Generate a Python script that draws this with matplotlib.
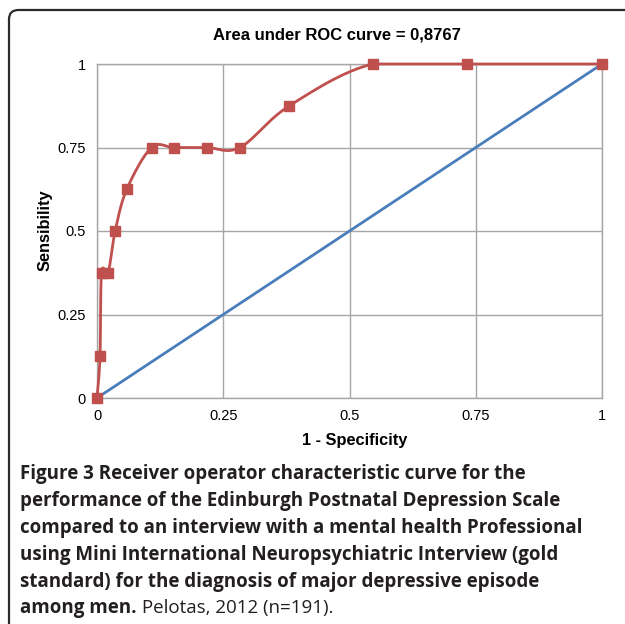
import numpy as np
import matplotlib
matplotlib.use("Agg")
import matplotlib.pyplot as plt
from matplotlib.patches import FancyBboxPatch

# ---- data ----
fpr = [0.0, 0.006, 0.009, 0.022, 0.036, 0.059, 0.108, 0.153, 0.217, 0.283, 0.381, 0.546, 0.732, 1.0]
sens = [0.0, 0.125, 0.375, 0.375, 0.5, 0.625, 0.75, 0.75, 0.75, 0.75, 0.875, 1.0, 1.0, 1.0]
ref_x = [0.0, 1.0]
ref_y = [0.0, 1.0]
ticks = [0, 0.25, 0.5, 0.75, 1]
tick_labels = ["0", "0.25", "0.5", "0.75", "1"]
title = "Area under ROC curve = 0,8767"
xlabel = "1 - Specificity"
ylabel = "Sensibility"
caption_bold = ["Figure 3 Receiver operator characteristic curve for the",
                "performance of the Edinburgh Postnatal Depression Scale",
                "compared to an interview with a mental health Professional",
                "using Mini International Neuropsychiatric Interview (gold",
                "standard) for the diagnosis of major depressive episode",
                "among men."]
caption_tail = " Pelotas, 2012 (n=191)."

RED = "#C0504D"
BLUE = "#4A7EBB"
GRID = "#A6A6A6"


def excel_smooth(x, y, n=30):
    p = np.column_stack([x, y]).astype(float)
    pts = []
    for i in range(len(p) - 1):
        p0 = p[i - 1] if i > 0 else p[i]
        p1 = p[i]
        p2 = p[i + 1]
        p3 = p[i + 2] if i + 2 < len(p) else p[i + 1]
        c1 = p1 + (p2 - p0) / 6.0
        c2 = p2 - (p3 - p1) / 6.0
        t = np.linspace(0, 1, n)[:, None]
        seg = ((1 - t) ** 3) * p1 + 3 * ((1 - t) ** 2) * t * c1 + 3 * (1 - t) * t ** 2 * c2 + t ** 3 * p2
        pts.append(seg if i == 0 else seg[1:])
    s = np.vstack(pts)
    return s[:, 0], np.minimum(s[:, 1], 1.0)


fig = plt.figure(figsize=(6.25, 6.24), dpi=100)
W, H = 625, 624

ax = fig.add_axes([97 / W, 1 - 398 / H, 505 / W, 334 / H])
ax.set_xlim(0, 1)
ax.set_ylim(0, 1)
ax.set_xticks(ticks)
ax.set_yticks(ticks)
ax.set_xticklabels(tick_labels)
ax.set_yticklabels(tick_labels)
for lab in ax.get_xticklabels() + ax.get_yticklabels():
    lab.set_fontfamily("Liberation Sans")
    lab.set_fontsize(10.5)
ax.tick_params(length=0, colors="black")
ax.tick_params(axis="x", pad=8)
ax.tick_params(axis="y", pad=8)
ax.grid(True, color=GRID, linewidth=1.0)
ax.set_axisbelow(True)
for sp in ax.spines.values():
    sp.set_color(GRID)
    sp.set_linewidth(1.0)

ax.plot(ref_x, ref_y, color=BLUE, linewidth=2.0, solid_capstyle="butt", zorder=3)
sx, sy = excel_smooth(fpr, sens)
ax.plot(sx, sy, color=RED, linewidth=2.0, zorder=4, clip_on=False)
ax.plot(fpr, sens, linestyle="none", marker="s", markersize=7.5, color=RED,
        markeredgecolor=RED, zorder=5, clip_on=False)

fig.text(337 / W, 1 - 35 / H, title, ha="center", va="center",
         fontfamily="Liberation Sans", fontweight="bold", fontsize=12)
fig.text(355 / W, 1 - 440 / H, xlabel, ha="center", va="center",
         fontfamily="Liberation Sans", fontweight="bold", fontsize=11.8)
fig.text(45 / W, 1 - 230 / H, ylabel, ha="center", va="center", rotation=90,
         fontfamily="Liberation Sans", fontweight="bold", fontsize=11.8)

# border
box = FancyBboxPatch((9 / W, -0.2), 1.2, 1 - 10 / H + 0.2,
                     boxstyle="round,pad=0,rounding_size=0.015",
                     transform=fig.transFigure, fill=False,
                     edgecolor="#2b2b2b", linewidth=1.6, clip_on=False)
fig.patches.append(box)

# caption
cfont = dict(fontfamily="Open Sans", fontsize=13.5, color="#231f20")
x0 = 20 / W
line_y = [479, 506, 533, 560, 587, 613]
fig.canvas.draw()
r = fig.canvas.get_renderer()
for i, txt in enumerate(caption_bold):
    y = 1 - line_y[i] / H
    t = fig.text(x0, y, txt, ha="left", va="baseline", fontweight="bold", **cfont)
    if i == len(caption_bold) - 1:
        bb = t.get_window_extent(renderer=r)
        fig.text(bb.x1 / W, y, caption_tail, ha="left", va="baseline",
                 fontweight="normal", **cfont)

fig.savefig("out.png", dpi=100)
